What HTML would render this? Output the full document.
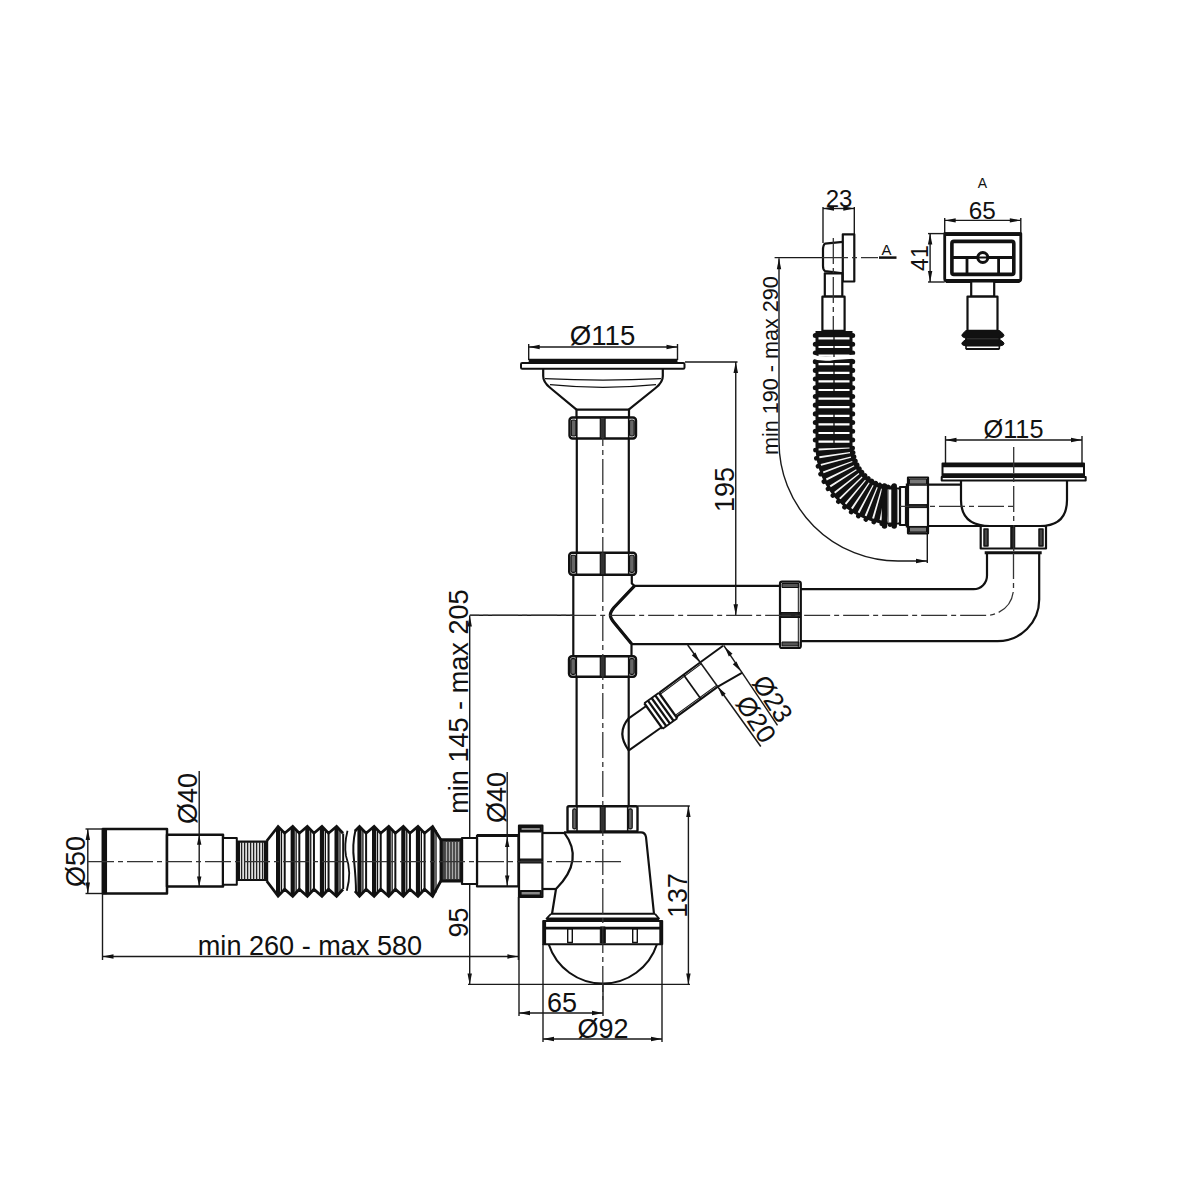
<!DOCTYPE html>
<html><head><meta charset="utf-8"><style>
html,body{margin:0;padding:0;background:#fff;}
svg{display:block;}
text{font-family:"Liberation Sans",sans-serif;fill:#111;}
</style></head><body>
<svg width="1200" height="1200" viewBox="0 0 1200 1200">
<rect width="1200" height="1200" fill="#fff"/>
<line x1="823" y1="207" x2="823" y2="243" stroke="#1a1a1a" stroke-width="1.4" fill="none"/>
<line x1="854.3" y1="207" x2="854.3" y2="234" stroke="#1a1a1a" stroke-width="1.4" fill="none"/>
<line x1="823" y1="208.5" x2="854.3" y2="208.5" stroke="#1a1a1a" stroke-width="1.4" fill="none"/>
<path d="M823.0,208.5 L834.0,206.3 L834.0,210.7Z" fill="#111"/>
<path d="M854.3,208.5 L843.3,210.7 L843.3,206.3Z" fill="#111"/>
<text x="839" y="207" font-size="24" text-anchor="middle" >23</text>
<rect x="842.8" y="234.3" width="11.5" height="47.2" stroke="#111" stroke-width="2.2" fill="#fff" stroke-linejoin="round"/>
<path d="M842.8,241.8 L825,243.6 Q823,245 823,250 L823,266 Q823,270 825,271 L842.8,273.3" stroke="#111" stroke-width="2.2" fill="none" stroke-linejoin="round"/>
<rect x="824.8" y="273.3" width="17.5" height="23.4" stroke="#111" stroke-width="2.2" fill="#fff" stroke-linejoin="round"/>
<rect x="822.4" y="296.7" width="22.2" height="34.1" stroke="#111" stroke-width="2.2" fill="#fff" stroke-linejoin="round"/>
<line x1="774.6" y1="257.6" x2="822" y2="257.6" stroke="#1a1a1a" stroke-width="1.4" fill="none"/>
<line x1="879" y1="257.6" x2="896.5" y2="257.6" stroke="#111" stroke-width="2.5" fill="none" stroke-linejoin="round"/>
<text x="886.5" y="254.5" font-size="15" text-anchor="middle" >A</text>
<line x1="779" y1="258.3" x2="779" y2="442" stroke="#1a1a1a" stroke-width="1.4" fill="none"/>
<path d="M779,442 A119,119 0 0 0 898,561 L927,561" stroke="#1a1a1a" stroke-width="1.4" fill="none"/>
<path d="M779.0,258.3 L781.2,269.3 L776.8,269.3Z" fill="#111"/>
<path d="M927.0,561.0 L916.0,563.2 L916.0,558.8Z" fill="#111"/>
<line x1="927.3" y1="530" x2="927.3" y2="563" stroke="#1a1a1a" stroke-width="1.4" fill="none"/>
<text x="778" y="365.6" font-size="21.6" text-anchor="middle" transform="rotate(-90 778 365.6)" >min 190 - max 290</text>
<text x="982.5" y="187.5" font-size="14" text-anchor="middle" >A</text>
<text x="982.2" y="218.6" font-size="24.3" text-anchor="middle" >65</text>
<line x1="944.7" y1="218" x2="944.7" y2="233.6" stroke="#1a1a1a" stroke-width="1.4" fill="none"/>
<line x1="1020.8" y1="218" x2="1020.8" y2="233.6" stroke="#1a1a1a" stroke-width="1.4" fill="none"/>
<line x1="944.7" y1="220.4" x2="1020.8" y2="220.4" stroke="#1a1a1a" stroke-width="1.4" fill="none"/>
<path d="M944.7,220.4 L955.7,218.2 L955.7,222.6Z" fill="#111"/>
<path d="M1020.8,220.4 L1009.8,222.6 L1009.8,218.2Z" fill="#111"/>
<path d="M944.7,233.6 H1020.8 V278.4 Q1020.8,281.4 1017.8,281.4 H947.7 Q944.7,281.4 944.7,278.4 Z" stroke="#111" stroke-width="2.8" fill="none" stroke-linejoin="round"/>
<line x1="944.7" y1="234.2" x2="1020.8" y2="234.2" stroke="#111" stroke-width="3.8" fill="none" stroke-linejoin="round"/>
<line x1="946" y1="281" x2="1019.5" y2="281" stroke="#111" stroke-width="3.8" fill="none" stroke-linejoin="round"/>
<rect x="951.9" y="241.4" width="61.9" height="33" stroke="#111" stroke-width="3.6" fill="#fff" stroke-linejoin="round" rx="2"/>
<line x1="951.9" y1="257.5" x2="1013.8" y2="257.5" stroke="#111" stroke-width="2.8" fill="none" stroke-linejoin="round"/>
<line x1="967" y1="257.5" x2="967" y2="274.4" stroke="#111" stroke-width="2.8" fill="none" stroke-linejoin="round"/>
<line x1="998.6" y1="257.5" x2="998.6" y2="274.4" stroke="#111" stroke-width="2.8" fill="none" stroke-linejoin="round"/>
<circle cx="982.8" cy="257.5" r="5" stroke="#111" stroke-width="3" fill="#fff"/>
<line x1="977.8" y1="257.5" x2="987.8" y2="257.5" stroke="#111" stroke-width="2" fill="none" stroke-linejoin="round"/>
<line x1="928" y1="233.6" x2="944.7" y2="233.6" stroke="#1a1a1a" stroke-width="1.4" fill="none"/>
<line x1="928" y1="282" x2="944.7" y2="282" stroke="#1a1a1a" stroke-width="1.4" fill="none"/>
<line x1="930.1" y1="233.6" x2="930.1" y2="282" stroke="#1a1a1a" stroke-width="1.4" fill="none"/>
<path d="M930.1,233.6 L932.3,244.6 L927.9,244.6Z" fill="#111"/>
<path d="M930.1,282.0 L927.9,271.0 L932.3,271.0Z" fill="#111"/>
<text x="928.3" y="258.1" font-size="23" text-anchor="middle" transform="rotate(-90 928.3 258.1)" >41</text>
<rect x="971.2" y="281.4" width="23" height="15.2" stroke="#111" stroke-width="2.2" fill="#fff" stroke-linejoin="round"/>
<rect x="967.5" y="296.6" width="30" height="34.2" stroke="#111" stroke-width="2.2" fill="#fff" stroke-linejoin="round"/>
<path d="M966,330.5 H999.5 L1003.2,333.8 Q1004.8,335.3 1003.2,336.8 L1000,338.3 H966 L962.6,336.8 Q961,335.3 962.6,333.8 Z" stroke="#111" stroke-width="1" fill="#111" stroke-linejoin="round"/>
<path d="M966,339.3 H999.5 L1003.2,342 Q1004.8,343.5 1003.2,345 L1000,346 H966 L962.6,345 Q961,343.5 962.6,342 Z" stroke="#111" stroke-width="1" fill="#111" stroke-linejoin="round"/>
<line x1="966" y1="338" x2="966" y2="349" stroke="#111" stroke-width="1.6" fill="none" stroke-linejoin="round"/>
<line x1="999.3" y1="338" x2="999.3" y2="349" stroke="#111" stroke-width="1.6" fill="none" stroke-linejoin="round"/>
<line x1="965.8" y1="349" x2="999.5" y2="349" stroke="#111" stroke-width="2.2" fill="none" stroke-linejoin="round"/>
<path d="M834,331 V446 A60,60 0 0 0 894,506 H899" stroke="#111" stroke-width="37" fill="none"/>
<path d="M834,331 V446" stroke="#fff" stroke-width="31" fill="none" stroke-dasharray="2.2 6.4" stroke-dashoffset="2.3"/>
<path d="M834,446 A60,60 0 0 0 894,506" stroke="#f4f4f4" stroke-width="31" fill="none" stroke-dasharray="1.6 4.6" stroke-dashoffset="-2"/>
<path d="M815.3,331 V446" stroke="#111" stroke-width="5" fill="none" stroke-linejoin="round" stroke-linecap="round" stroke-dasharray="0.1 8.6" stroke-dashoffset="-4.5"/>
<path d="M852.7,331 V446" stroke="#111" stroke-width="5" fill="none" stroke-linejoin="round" stroke-linecap="round" stroke-dasharray="0.1 8.6" stroke-dashoffset="-4.5"/>
<path d="M815.3,446 A78.7,78.7 0 0 0 894,524.7" stroke="#111" stroke-width="4.6" fill="none" stroke-linejoin="round" stroke-linecap="round" stroke-dasharray="0.1 8.13" stroke-dashoffset="-4.07"/>
<path d="M852.7,446 A41.3,41.3 0 0 0 894,487.3" stroke="#111" stroke-width="4.6" fill="none" stroke-linejoin="round" stroke-linecap="round" stroke-dasharray="0.1 4.27" stroke-dashoffset="-2.13"/>
<rect x="887.6" y="489.5" width="4.0" height="33" stroke="none" stroke-width="2.2" fill="#fff" stroke-linejoin="round"/>
<line x1="888.2" y1="489.5" x2="888.2" y2="522.5" stroke="#555" stroke-width="0.9" fill="none" stroke-linejoin="round"/>
<rect x="896.6" y="489.5" width="2.3999999999999773" height="33" stroke="none" stroke-width="2.2" fill="#fff" stroke-linejoin="round"/>
<line x1="897.2" y1="489.5" x2="897.2" y2="522.5" stroke="#555" stroke-width="0.9" fill="none" stroke-linejoin="round"/>
<line x1="884.5" y1="486" x2="884.5" y2="526" stroke="#111" stroke-width="5.5" fill="none" stroke-linejoin="round" stroke-linecap="round"/>
<line x1="894.2" y1="486" x2="894.2" y2="526" stroke="#111" stroke-width="5.5" fill="none" stroke-linejoin="round" stroke-linecap="round"/>
<path d="M811,355.8 Q822,360.5 834,358 L857,356.5" stroke="#fff" stroke-width="4" fill="none" stroke-linejoin="round"/>
<rect x="900" y="487" width="6" height="38" stroke="#111" stroke-width="2.2" fill="#fff" stroke-linejoin="round"/>
<rect x="908" y="477.5" width="20" height="55.8" stroke="#111" stroke-width="2.2" fill="#fff" stroke-linejoin="round"/>
<rect x="909.5" y="479" width="17" height="5" stroke="#111" stroke-width="1" fill="#777" stroke-linejoin="round"/>
<rect x="909.5" y="527" width="17" height="5" stroke="#111" stroke-width="1" fill="#777" stroke-linejoin="round"/>
<line x1="908" y1="485" x2="928" y2="485" stroke="#111" stroke-width="1.5" fill="none" stroke-linejoin="round"/>
<line x1="908" y1="526.7" x2="928" y2="526.7" stroke="#111" stroke-width="1.5" fill="none" stroke-linejoin="round"/>
<rect x="909" y="504.6" width="18" height="3" stroke="#111" stroke-width="1" fill="#222" stroke-linejoin="round"/>
<line x1="906.8" y1="483.5" x2="906.8" y2="527.5" stroke="#111" stroke-width="2" fill="none" stroke-linejoin="round"/>
<text x="1013.5" y="437.9" font-size="25.3" text-anchor="middle" >Ø115</text>
<line x1="945.5" y1="436" x2="945.5" y2="463" stroke="#1a1a1a" stroke-width="1.4" fill="none"/>
<line x1="1082" y1="436" x2="1082" y2="463" stroke="#1a1a1a" stroke-width="1.4" fill="none"/>
<line x1="945.5" y1="440" x2="1082" y2="440" stroke="#1a1a1a" stroke-width="1.4" fill="none"/>
<path d="M945.5,440.0 L956.5,437.8 L956.5,442.2Z" fill="#111"/>
<path d="M1082.0,440.0 L1071.0,442.2 L1071.0,437.8Z" fill="#111"/>
<rect x="942.5" y="463.5" width="141.5" height="13.5" stroke="#111" stroke-width="2" fill="#fff" stroke-linejoin="round"/>
<line x1="942.5" y1="465.5" x2="1084" y2="465.5" stroke="#111" stroke-width="3.5" fill="none" stroke-linejoin="round"/>
<line x1="942.5" y1="474.7" x2="1084" y2="474.7" stroke="#111" stroke-width="3" fill="none" stroke-linejoin="round"/>
<rect x="941.7" y="477" width="144" height="3.4" stroke="#111" stroke-width="2" fill="#fff" stroke-linejoin="round"/>
<path d="M961,480.2 V500 Q961,526 990,526 H1040 Q1067,526 1067,500 V480.2" stroke="#111" stroke-width="2.2" fill="none" stroke-linejoin="round"/>
<line x1="928" y1="484.7" x2="961" y2="484.7" stroke="#111" stroke-width="2.2" fill="none" stroke-linejoin="round"/>
<line x1="928" y1="526" x2="981" y2="526" stroke="#111" stroke-width="2.2" fill="none" stroke-linejoin="round"/>
<rect x="980.7" y="526" width="65.3" height="22.5" stroke="#111" stroke-width="2.2" fill="#fff" stroke-linejoin="round"/>
<rect x="984" y="529" width="4" height="17" stroke="#111" stroke-width="1.5" fill="#444" stroke-linejoin="round"/>
<rect x="1039" y="529" width="4" height="17" stroke="#111" stroke-width="1.5" fill="#444" stroke-linejoin="round"/>
<rect x="1011" y="527" width="3.5" height="21" stroke="#111" stroke-width="1.5" fill="#222" stroke-linejoin="round"/>
<line x1="984.7" y1="552.8" x2="1041.7" y2="552.8" stroke="#111" stroke-width="3" fill="none" stroke-linejoin="round"/>
<path d="M987,553 V575.5 A13.5,13.5 0 0 1 973.5,589.2 H800.8" stroke="#111" stroke-width="2.2" fill="none" stroke-linejoin="round"/>
<path d="M1039.2,553 V599.5 A41.7,41.7 0 0 1 997.5,641.2 H800.8" stroke="#111" stroke-width="2.2" fill="none" stroke-linejoin="round"/>
<rect x="780" y="581.7" width="20.8" height="66.3" stroke="#111" stroke-width="2.2" fill="#fff" stroke-linejoin="round" rx="2"/>
<rect x="782" y="583.5" width="16.8" height="4" stroke="#111" stroke-width="1" fill="#555" stroke-linejoin="round"/>
<rect x="782" y="642" width="16.8" height="4" stroke="#111" stroke-width="1" fill="#555" stroke-linejoin="round"/>
<rect x="781" y="612.5" width="19" height="5" stroke="#111" stroke-width="1" fill="#222" stroke-linejoin="round"/>
<line x1="798.3" y1="583" x2="798.3" y2="647" stroke="#111" stroke-width="1" fill="none" stroke-linejoin="round"/>
<line x1="634.5" y1="585.8" x2="780" y2="585.8" stroke="#111" stroke-width="2.2" fill="none" stroke-linejoin="round"/>
<line x1="631.5" y1="644.2" x2="780" y2="644.2" stroke="#111" stroke-width="2.2" fill="none" stroke-linejoin="round"/>
<text x="602.6" y="344.8" font-size="27.6" text-anchor="middle" >Ø115</text>
<line x1="528.7" y1="344" x2="528.7" y2="360" stroke="#1a1a1a" stroke-width="1.4" fill="none"/>
<line x1="677.5" y1="344" x2="677.5" y2="360" stroke="#1a1a1a" stroke-width="1.4" fill="none"/>
<line x1="528.7" y1="347" x2="677.5" y2="347" stroke="#1a1a1a" stroke-width="1.4" fill="none"/>
<path d="M528.7,347.0 L539.7,344.8 L539.7,349.2Z" fill="#111"/>
<path d="M677.5,347.0 L666.5,349.2 L666.5,344.8Z" fill="#111"/>
<line x1="528.7" y1="360.6" x2="677.5" y2="360.6" stroke="#111" stroke-width="3.5" fill="none" stroke-linejoin="round"/>
<rect x="521" y="363" width="163.5" height="5.8" stroke="#111" stroke-width="2" fill="#fff" stroke-linejoin="round" rx="1.2"/>
<path d="M543.2,369 V376 Q543,382 550.4,388 L576.5,409.7" stroke="#111" stroke-width="2.2" fill="none" stroke-linejoin="round"/>
<path d="M662.8,369 V376 Q663,382 655.6,388 L628.7,409.7" stroke="#111" stroke-width="2.2" fill="none" stroke-linejoin="round"/>
<path d="M545,378.6 Q603,381.5 661,378.6" stroke="#111" stroke-width="1.2" fill="none" stroke-linejoin="round"/>
<path d="M550,384.6 Q603,390 656,384.6" stroke="#111" stroke-width="1.2" fill="none" stroke-linejoin="round"/>
<rect x="576.5" y="409.7" width="52.5" height="8" stroke="#111" stroke-width="2.2" fill="#fff" stroke-linejoin="round"/>
<line x1="685" y1="362" x2="737.5" y2="362" stroke="#1a1a1a" stroke-width="1.4" fill="none"/>
<line x1="735.75" y1="362" x2="735.75" y2="615.3" stroke="#1a1a1a" stroke-width="1.4" fill="none"/>
<path d="M735.8,362.0 L738.0,373.0 L733.5,373.0Z" fill="#111"/>
<path d="M735.8,615.3 L733.5,604.3 L738.0,604.3Z" fill="#111"/>
<text x="734.2" y="489.4" font-size="27" text-anchor="middle" transform="rotate(-90 734.2 489.4)" >195</text>
<rect x="569.5" y="417.5" width="66.5" height="21.0" stroke="#111" stroke-width="2.4" fill="#fff" stroke-linejoin="round" rx="3"/>
<rect x="571.3" y="420.0" width="4.7" height="16.0" stroke="#111" stroke-width="1.2" fill="#666" stroke-linejoin="round" rx="1.5"/>
<rect x="629.5" y="420.0" width="4.7" height="16.0" stroke="#111" stroke-width="1.2" fill="#666" stroke-linejoin="round" rx="1.5"/>
<line x1="576.8" y1="417.5" x2="576.8" y2="438.5" stroke="#111" stroke-width="1.6" fill="none" stroke-linejoin="round"/>
<line x1="628.7" y1="417.5" x2="628.7" y2="438.5" stroke="#111" stroke-width="1.6" fill="none" stroke-linejoin="round"/>
<rect x="600.3" y="417.5" width="4.8" height="21.0" stroke="#111" stroke-width="1.2" fill="#333" stroke-linejoin="round"/>
<line x1="576.8" y1="438.5" x2="576.8" y2="552.75" stroke="#111" stroke-width="2.2" fill="none" stroke-linejoin="round"/>
<line x1="628.8" y1="438.5" x2="628.8" y2="552.75" stroke="#111" stroke-width="2.2" fill="none" stroke-linejoin="round"/>
<rect x="569.2" y="552.75" width="66.79999999999995" height="22.049999999999955" stroke="#111" stroke-width="2.4" fill="#fff" stroke-linejoin="round" rx="3"/>
<rect x="571.0" y="555.25" width="4.7" height="17.049999999999955" stroke="#111" stroke-width="1.2" fill="#666" stroke-linejoin="round" rx="1.5"/>
<rect x="629.5" y="555.25" width="4.7" height="17.049999999999955" stroke="#111" stroke-width="1.2" fill="#666" stroke-linejoin="round" rx="1.5"/>
<line x1="576.5" y1="552.75" x2="576.5" y2="574.8" stroke="#111" stroke-width="1.6" fill="none" stroke-linejoin="round"/>
<line x1="628.7" y1="552.75" x2="628.7" y2="574.8" stroke="#111" stroke-width="1.6" fill="none" stroke-linejoin="round"/>
<rect x="600.3" y="552.75" width="4.8" height="22.049999999999955" stroke="#111" stroke-width="1.2" fill="#333" stroke-linejoin="round"/>
<line x1="573.3" y1="574.8" x2="573.3" y2="656.2" stroke="#111" stroke-width="2.2" fill="none" stroke-linejoin="round"/>
<path d="M631.8,574.8 V583.5 L634.5,585.8 L614,607.5 Q610.3,612 610.3,615 Q610.3,618 614,622.5 L631.5,643.8 V656.2" stroke="#111" stroke-width="2.2" fill="none" stroke-linejoin="round"/>
<path d="M634.5,585.8 L614,607.5 Q610.3,612 610.3,615 Q610.3,618 614,622.5 L631.5,643.8" stroke="#111" stroke-width="3.2" fill="none" stroke-linejoin="round"/>
<rect x="569" y="656.2" width="67" height="20.59999999999991" stroke="#111" stroke-width="2.4" fill="#fff" stroke-linejoin="round" rx="3"/>
<rect x="570.8" y="658.7" width="4.7" height="15.599999999999909" stroke="#111" stroke-width="1.2" fill="#666" stroke-linejoin="round" rx="1.5"/>
<rect x="629.5" y="658.7" width="4.7" height="15.599999999999909" stroke="#111" stroke-width="1.2" fill="#666" stroke-linejoin="round" rx="1.5"/>
<line x1="576.3" y1="656.2" x2="576.3" y2="676.8" stroke="#111" stroke-width="1.6" fill="none" stroke-linejoin="round"/>
<line x1="628.7" y1="656.2" x2="628.7" y2="676.8" stroke="#111" stroke-width="1.6" fill="none" stroke-linejoin="round"/>
<rect x="600.3" y="656.2" width="4.8" height="20.59999999999991" stroke="#111" stroke-width="1.2" fill="#333" stroke-linejoin="round"/>
<line x1="576.6" y1="676.8" x2="576.6" y2="806" stroke="#111" stroke-width="2.2" fill="none" stroke-linejoin="round"/>
<line x1="628.7" y1="676.8" x2="628.7" y2="806" stroke="#111" stroke-width="2.2" fill="none" stroke-linejoin="round"/>
<rect x="567.5" y="806.3" width="70.0" height="25.100000000000023" stroke="#111" stroke-width="2.4" fill="#fff" stroke-linejoin="round" rx="1.5"/>
<rect x="572.8" y="808.8" width="3.4000000000000457" height="20.100000000000023" stroke="#111" stroke-width="1.2" fill="#666" stroke-linejoin="round" rx="1.5"/>
<rect x="628.5" y="808.8" width="3.7" height="20.100000000000023" stroke="#111" stroke-width="1.2" fill="#666" stroke-linejoin="round" rx="1.5"/>
<line x1="577" y1="806.3" x2="577" y2="831.4" stroke="#111" stroke-width="1.6" fill="none" stroke-linejoin="round"/>
<line x1="627.7" y1="806.3" x2="627.7" y2="831.4" stroke="#111" stroke-width="1.6" fill="none" stroke-linejoin="round"/>
<rect x="600.3" y="806.3" width="4.8" height="25.100000000000023" stroke="#111" stroke-width="1.2" fill="#333" stroke-linejoin="round"/>
<path d="M723.07,645.80 L700.39,662.22 L659.44,692.63" stroke="#111" stroke-width="2.0" fill="none" stroke-linejoin="round"/>
<path d="M701.44,663.68 L660.49,694.09" stroke="#111" stroke-width="1.1" fill="none" stroke-linejoin="round"/>
<path d="M742.33,672.60 L717.90,686.58 L676.66,716.59" stroke="#111" stroke-width="2.0" fill="none" stroke-linejoin="round"/>
<path d="M716.85,685.12 L675.61,715.13" stroke="#111" stroke-width="1.1" fill="none" stroke-linejoin="round"/>
<path d="M683.69,674.96 L700.90,698.92" stroke="#111" stroke-width="1.7" fill="none" stroke-linejoin="round"/>
<path d="M658.92,692.76 L677.30,718.34" stroke="#111" stroke-width="2.3" fill="none" stroke-linejoin="round"/>
<path d="M655.27,695.39 L673.65,720.97" stroke="#111" stroke-width="2.3" fill="none" stroke-linejoin="round"/>
<path d="M651.61,698.01 L669.99,723.59" stroke="#111" stroke-width="2.3" fill="none" stroke-linejoin="round"/>
<path d="M647.96,700.64 L666.34,726.22" stroke="#111" stroke-width="2.3" fill="none" stroke-linejoin="round"/>
<path d="M644.30,703.26 L662.68,728.84" stroke="#111" stroke-width="2.3" fill="none" stroke-linejoin="round"/>
<path d="M658.92,692.76 L644.30,703.26" stroke="#111" stroke-width="1.8" fill="none" stroke-linejoin="round"/>
<path d="M677.30,718.34 L662.68,728.84" stroke="#111" stroke-width="1.8" fill="none" stroke-linejoin="round"/>
<path d="M646.23,705.94 L628.71,718.41" stroke="#111" stroke-width="2.0" fill="none" stroke-linejoin="round"/>
<path d="M661.57,727.30 L628.92,750.40" stroke="#111" stroke-width="2.0" fill="none" stroke-linejoin="round"/>
<path d="M628.7,718.3 Q616,733 628.7,750.3" stroke="#111" stroke-width="2.2" fill="none" stroke-linejoin="round"/>
<line x1="687.7" y1="645" x2="760.8" y2="746.5" stroke="#1a1a1a" stroke-width="1.5" fill="none"/>
<line x1="723.7" y1="645.3" x2="777.5" y2="725.3" stroke="#1a1a1a" stroke-width="1.5" fill="none"/>
<path d="M699.5,662.0 L691.8,655.2 L695.5,652.5Z" fill="#111"/>
<path d="M718.0,687.0 L725.7,693.8 L722.0,696.5Z" fill="#111"/>
<path d="M724.8,647.0 L732.5,653.8 L728.8,656.5Z" fill="#111"/>
<path d="M740.5,671.0 L732.8,664.2 L736.5,661.5Z" fill="#111"/>
<text x="748.4" y="724.2" font-size="26.5" text-anchor="middle" transform="rotate(57 748.4 724.2)" >Ø20</text>
<text x="764.9" y="703.7" font-size="26.5" text-anchor="middle" transform="rotate(57 764.9 703.7)" >Ø23</text>
<line x1="637.5" y1="806" x2="689.8" y2="806" stroke="#1a1a1a" stroke-width="1.4" fill="none"/>
<line x1="688.4" y1="806" x2="688.4" y2="984.4" stroke="#1a1a1a" stroke-width="1.4" fill="none"/>
<path d="M688.4,806.0 L690.6,817.0 L686.2,817.0Z" fill="#111"/>
<path d="M688.4,984.4 L686.2,973.4 L690.6,973.4Z" fill="#111"/>
<text x="686.5" y="895.5" font-size="26.8" text-anchor="middle" transform="rotate(-90 686.5 895.5)" >137</text>
<path d="M564,832.4 H641 Q645,832.4 646,837 L654,914" stroke="#111" stroke-width="2.2" fill="none" stroke-linejoin="round"/>
<path d="M564,832.4 Q585,860 556,889 L552,914" stroke="#111" stroke-width="2.2" fill="none" stroke-linejoin="round"/>
<line x1="551" y1="913.8" x2="655" y2="913.8" stroke="#111" stroke-width="2" fill="none" stroke-linejoin="round"/>
<path d="M551,913.8 L546.5,918.5 H659 L655,913.8" stroke="#111" stroke-width="1.8" fill="none" stroke-linejoin="round"/>
<line x1="546.5" y1="919.6" x2="659" y2="919.6" stroke="#111" stroke-width="3" fill="none" stroke-linejoin="round"/>
<rect x="543.2" y="921" width="119" height="23.2" stroke="#111" stroke-width="2" fill="#fff" stroke-linejoin="round"/>
<line x1="544.6" y1="921" x2="544.6" y2="944" stroke="#111" stroke-width="3" fill="none" stroke-linejoin="round"/>
<line x1="660.8" y1="921" x2="660.8" y2="944" stroke="#111" stroke-width="3" fill="none" stroke-linejoin="round"/>
<line x1="543" y1="928.2" x2="662.4" y2="928.2" stroke="#111" stroke-width="2.8" fill="none" stroke-linejoin="round"/>
<rect x="567.7" y="929" width="4.6" height="13.5" stroke="#111" stroke-width="1.4" fill="#fff" stroke-linejoin="round"/>
<rect x="632.7" y="929" width="4.6" height="13.5" stroke="#111" stroke-width="1.4" fill="#fff" stroke-linejoin="round"/>
<rect x="600.3" y="927" width="5" height="16" stroke="#111" stroke-width="1" fill="#111" stroke-linejoin="round"/>
<path d="M548.75,944.4 A56.9,56.9 0 0 0 656.9,944.4" stroke="#111" stroke-width="2" fill="none" stroke-linejoin="round"/>
<line x1="542" y1="833" x2="564" y2="833" stroke="#111" stroke-width="2.2" fill="none" stroke-linejoin="round"/>
<line x1="542" y1="889" x2="556" y2="889" stroke="#111" stroke-width="2.2" fill="none" stroke-linejoin="round"/>
<rect x="519" y="825.6" width="23.4" height="71.4" stroke="#111" stroke-width="2.2" fill="#fff" stroke-linejoin="round"/>
<rect x="520.6" y="827" width="20.2" height="4.6" stroke="#111" stroke-width="2" fill="#888" stroke-linejoin="round"/>
<rect x="520.6" y="891" width="20.2" height="4.6" stroke="#111" stroke-width="2" fill="#888" stroke-linejoin="round"/>
<rect x="520" y="859" width="22" height="4" stroke="#111" stroke-width="1.2" fill="#222" stroke-linejoin="round"/>
<line x1="519" y1="830.5" x2="542.4" y2="830.5" stroke="#111" stroke-width="1" fill="none" stroke-linejoin="round"/>
<line x1="468" y1="984.4" x2="690" y2="984.4" stroke="#1a1a1a" stroke-width="1.4" fill="none"/>
<line x1="519" y1="897" x2="519" y2="1016" stroke="#1a1a1a" stroke-width="1.4" fill="none"/>
<line x1="603" y1="984" x2="603" y2="1016" stroke="#1a1a1a" stroke-width="1.4" fill="none"/>
<line x1="519" y1="1013" x2="603" y2="1013" stroke="#1a1a1a" stroke-width="1.4" fill="none"/>
<path d="M519.0,1013.0 L530.0,1010.8 L530.0,1015.2Z" fill="#111"/>
<path d="M603.0,1013.0 L592.0,1015.2 L592.0,1010.8Z" fill="#111"/>
<text x="562" y="1011.5" font-size="27" text-anchor="middle" >65</text>
<line x1="543" y1="944" x2="543" y2="1042" stroke="#1a1a1a" stroke-width="1.4" fill="none"/>
<line x1="662" y1="944" x2="662" y2="1042" stroke="#1a1a1a" stroke-width="1.4" fill="none"/>
<line x1="543" y1="1039" x2="662" y2="1039" stroke="#1a1a1a" stroke-width="1.4" fill="none"/>
<path d="M543.0,1039.0 L554.0,1036.8 L554.0,1041.2Z" fill="#111"/>
<path d="M662.0,1039.0 L651.0,1041.2 L651.0,1036.8Z" fill="#111"/>
<text x="603" y="1037.5" font-size="27" text-anchor="middle" >Ø92</text>
<line x1="469.7" y1="615.3" x2="573.3" y2="615.3" stroke="#1a1a1a" stroke-width="1.4" fill="none"/>
<line x1="469.7" y1="615.5" x2="469.7" y2="861.6" stroke="#1a1a1a" stroke-width="1.4" fill="none"/>
<path d="M469.7,615.5 L471.9,626.5 L467.5,626.5Z" fill="#111"/>
<path d="M469.7,858.5 L467.5,847.5 L471.9,847.5Z" fill="#111"/>
<path d="M469.7,865.0 L471.9,876.0 L467.5,876.0Z" fill="#111"/>
<path d="M469.7,984.4 L467.5,973.4 L471.9,973.4Z" fill="#111"/>
<line x1="469.7" y1="861.6" x2="469.7" y2="984.4" stroke="#1a1a1a" stroke-width="1.4" fill="none"/>
<text x="468.5" y="701.6" font-size="27.1" text-anchor="middle" transform="rotate(-90 468.5 701.6)" >min 145 - max 205</text>
<text x="468" y="922.5" font-size="27" text-anchor="middle" transform="rotate(-90 468 922.5)" >95</text>
<line x1="102.5" y1="956.5" x2="518.4" y2="956.5" stroke="#1a1a1a" stroke-width="1.4" fill="none"/>
<path d="M102.5,956.5 L113.5,954.3 L113.5,958.7Z" fill="#111"/>
<path d="M518.4,956.5 L507.4,958.7 L507.4,954.3Z" fill="#111"/>
<line x1="518.4" y1="897" x2="518.4" y2="960" stroke="#1a1a1a" stroke-width="1.4" fill="none"/>
<line x1="102.5" y1="893.5" x2="102.5" y2="960" stroke="#1a1a1a" stroke-width="1.4" fill="none"/>
<text x="310" y="955" font-size="27.1" text-anchor="middle" >min 260 - max 580</text>
<rect x="477" y="835.6" width="41.4" height="50.8" stroke="#111" stroke-width="2.2" fill="#fff" stroke-linejoin="round"/>
<line x1="477" y1="835.6" x2="518.4" y2="835.6" stroke="#111" stroke-width="3" fill="none" stroke-linejoin="round"/>
<line x1="507.2" y1="772" x2="507.2" y2="886" stroke="#1a1a1a" stroke-width="1.4" fill="none"/>
<path d="M507.2,837.0 L509.4,847.0 L505.0,847.0Z" fill="#111"/>
<path d="M507.2,885.5 L505.0,875.5 L509.4,875.5Z" fill="#111"/>
<text x="505.8" y="797.5" font-size="27" text-anchor="middle" transform="rotate(-90 505.8 797.5)" >Ø40</text>
<rect x="462" y="838" width="15" height="46" stroke="#111" stroke-width="2.2" fill="#fff" stroke-linejoin="round"/>
<rect x="441.2" y="839.8" width="20.4" height="41.2" stroke="#111" stroke-width="3" fill="#444" stroke-linejoin="round"/>
<line x1="446.5" y1="842" x2="446.5" y2="879" stroke="#aaa" stroke-width="1.2" fill="none" stroke-linejoin="round"/>
<line x1="449.5" y1="842" x2="449.5" y2="879" stroke="#aaa" stroke-width="1.2" fill="none" stroke-linejoin="round"/>
<line x1="452.5" y1="842" x2="452.5" y2="879" stroke="#aaa" stroke-width="1.2" fill="none" stroke-linejoin="round"/>
<line x1="455.5" y1="842" x2="455.5" y2="879" stroke="#aaa" stroke-width="1.2" fill="none" stroke-linejoin="round"/>
<line x1="458.5" y1="842" x2="458.5" y2="879" stroke="#aaa" stroke-width="1.2" fill="none" stroke-linejoin="round"/>
<path d="M266.70,841 L278.10,826.5 L284.70,833.2 L292.72,826.5 L299.32,833.2 L307.34,826.5 L313.94,833.2 L321.96,826.5 L328.56,833.2 L336.58,826.5 L343.00,833.2" stroke="#111" stroke-width="2.8" fill="none" stroke-linejoin="miter" stroke-miterlimit="3"/>
<path d="M266.70,881 L278.10,896.2 L284.70,889.3 L292.72,896.2 L299.32,889.3 L307.34,896.2 L313.94,889.3 L321.96,896.2 L328.56,889.3 L336.58,896.2 L343.00,889.3" stroke="#111" stroke-width="2.8" fill="none" stroke-linejoin="miter" stroke-miterlimit="3"/>
<path d="M355.00,831 L359.50,826.5 L366.10,833.2 L374.12,826.5 L380.72,833.2 L388.74,826.5 L395.34,833.2 L403.36,826.5 L409.96,833.2 L417.98,826.5 L424.58,833.2 L432.60,826.5 L440.80,839.8" stroke="#111" stroke-width="2.8" fill="none" stroke-linejoin="miter" stroke-miterlimit="3"/>
<path d="M355.00,891 L359.50,896.2 L366.10,889.3 L374.12,896.2 L380.72,889.3 L388.74,896.2 L395.34,889.3 L403.36,896.2 L409.96,889.3 L417.98,896.2 L424.58,889.3 L432.60,896.2 L440.80,881" stroke="#111" stroke-width="2.8" fill="none" stroke-linejoin="miter" stroke-miterlimit="3"/>
<line x1="278.1" y1="828" x2="278.1" y2="894.5" stroke="#111" stroke-width="4.2" fill="none" stroke-linejoin="round"/>
<line x1="281.5" y1="830" x2="281.5" y2="892.5" stroke="#111" stroke-width="1.3" fill="none" stroke-linejoin="round"/>
<line x1="284.70000000000005" y1="833.5" x2="284.70000000000005" y2="889" stroke="#111" stroke-width="2" fill="none" stroke-linejoin="round"/>
<line x1="292.72" y1="828" x2="292.72" y2="894.5" stroke="#111" stroke-width="4.2" fill="none" stroke-linejoin="round"/>
<line x1="296.12" y1="830" x2="296.12" y2="892.5" stroke="#111" stroke-width="1.3" fill="none" stroke-linejoin="round"/>
<line x1="299.32000000000005" y1="833.5" x2="299.32000000000005" y2="889" stroke="#111" stroke-width="2" fill="none" stroke-linejoin="round"/>
<line x1="307.34000000000003" y1="828" x2="307.34000000000003" y2="894.5" stroke="#111" stroke-width="4.2" fill="none" stroke-linejoin="round"/>
<line x1="310.74" y1="830" x2="310.74" y2="892.5" stroke="#111" stroke-width="1.3" fill="none" stroke-linejoin="round"/>
<line x1="313.94000000000005" y1="833.5" x2="313.94000000000005" y2="889" stroke="#111" stroke-width="2" fill="none" stroke-linejoin="round"/>
<line x1="321.96000000000004" y1="828" x2="321.96000000000004" y2="894.5" stroke="#111" stroke-width="4.2" fill="none" stroke-linejoin="round"/>
<line x1="325.36" y1="830" x2="325.36" y2="892.5" stroke="#111" stroke-width="1.3" fill="none" stroke-linejoin="round"/>
<line x1="328.56000000000006" y1="833.5" x2="328.56000000000006" y2="889" stroke="#111" stroke-width="2" fill="none" stroke-linejoin="round"/>
<line x1="336.58000000000004" y1="828" x2="336.58000000000004" y2="894.5" stroke="#111" stroke-width="4.2" fill="none" stroke-linejoin="round"/>
<line x1="339.98" y1="830" x2="339.98" y2="892.5" stroke="#111" stroke-width="1.3" fill="none" stroke-linejoin="round"/>
<line x1="343.18000000000006" y1="833.5" x2="343.18000000000006" y2="889" stroke="#111" stroke-width="2" fill="none" stroke-linejoin="round"/>
<line x1="359.5" y1="828" x2="359.5" y2="894.5" stroke="#111" stroke-width="4.2" fill="none" stroke-linejoin="round"/>
<line x1="362.9" y1="830" x2="362.9" y2="892.5" stroke="#111" stroke-width="1.3" fill="none" stroke-linejoin="round"/>
<line x1="366.1" y1="833.5" x2="366.1" y2="889" stroke="#111" stroke-width="2" fill="none" stroke-linejoin="round"/>
<line x1="374.12" y1="828" x2="374.12" y2="894.5" stroke="#111" stroke-width="4.2" fill="none" stroke-linejoin="round"/>
<line x1="377.52" y1="830" x2="377.52" y2="892.5" stroke="#111" stroke-width="1.3" fill="none" stroke-linejoin="round"/>
<line x1="380.72" y1="833.5" x2="380.72" y2="889" stroke="#111" stroke-width="2" fill="none" stroke-linejoin="round"/>
<line x1="388.74" y1="828" x2="388.74" y2="894.5" stroke="#111" stroke-width="4.2" fill="none" stroke-linejoin="round"/>
<line x1="392.14" y1="830" x2="392.14" y2="892.5" stroke="#111" stroke-width="1.3" fill="none" stroke-linejoin="round"/>
<line x1="395.34000000000003" y1="833.5" x2="395.34000000000003" y2="889" stroke="#111" stroke-width="2" fill="none" stroke-linejoin="round"/>
<line x1="403.36" y1="828" x2="403.36" y2="894.5" stroke="#111" stroke-width="4.2" fill="none" stroke-linejoin="round"/>
<line x1="406.76" y1="830" x2="406.76" y2="892.5" stroke="#111" stroke-width="1.3" fill="none" stroke-linejoin="round"/>
<line x1="409.96000000000004" y1="833.5" x2="409.96000000000004" y2="889" stroke="#111" stroke-width="2" fill="none" stroke-linejoin="round"/>
<line x1="417.98" y1="828" x2="417.98" y2="894.5" stroke="#111" stroke-width="4.2" fill="none" stroke-linejoin="round"/>
<line x1="421.38" y1="830" x2="421.38" y2="892.5" stroke="#111" stroke-width="1.3" fill="none" stroke-linejoin="round"/>
<line x1="424.58000000000004" y1="833.5" x2="424.58000000000004" y2="889" stroke="#111" stroke-width="2" fill="none" stroke-linejoin="round"/>
<line x1="432.6" y1="828" x2="432.6" y2="894.5" stroke="#111" stroke-width="4.2" fill="none" stroke-linejoin="round"/>
<line x1="436.0" y1="830" x2="436.0" y2="892.5" stroke="#111" stroke-width="1.3" fill="none" stroke-linejoin="round"/>
<line x1="266.7" y1="841" x2="266.7" y2="881" stroke="#111" stroke-width="3" fill="none" stroke-linejoin="round"/>
<line x1="440.8" y1="839.8" x2="440.8" y2="881" stroke="#111" stroke-width="2" fill="none" stroke-linejoin="round"/>
<path d="M347.5,830.7 Q344,845 346,856 Q352,872 346.8,890.7" stroke="#111" stroke-width="1.8" fill="none" stroke-linejoin="round"/>
<path d="M355.5,830 Q352,845 354,860 Q356,880 356,892" stroke="#111" stroke-width="2" fill="none" stroke-linejoin="round"/>
<rect x="102.8" y="829" width="64.2" height="64.5" stroke="#111" stroke-width="2.5" fill="#fff" stroke-linejoin="round"/>
<rect x="102.8" y="829" width="3.5" height="64.5" stroke="#111" stroke-width="1.5" fill="#111" stroke-linejoin="round"/>
<rect x="167" y="834.8" width="56" height="51.8" stroke="#111" stroke-width="2.5" fill="#fff" stroke-linejoin="round"/>
<rect x="223" y="838" width="13.8" height="46.8" stroke="#111" stroke-width="2" fill="#fff" stroke-linejoin="round"/>
<rect x="237.5" y="841.6" width="29" height="38.4" stroke="#111" stroke-width="2.2" fill="#fff" stroke-linejoin="round"/>
<line x1="238.5" y1="841.6" x2="238.5" y2="880" stroke="#111" stroke-width="3" fill="none" stroke-linejoin="round"/>
<line x1="265.5" y1="841.6" x2="265.5" y2="880" stroke="#111" stroke-width="3" fill="none" stroke-linejoin="round"/>
<line x1="241.6" y1="842" x2="241.6" y2="879.5" stroke="#222" stroke-width="1.5" fill="none" stroke-linejoin="round"/>
<line x1="244.6" y1="842" x2="244.6" y2="879.5" stroke="#222" stroke-width="1.5" fill="none" stroke-linejoin="round"/>
<line x1="247.6" y1="842" x2="247.6" y2="879.5" stroke="#222" stroke-width="1.5" fill="none" stroke-linejoin="round"/>
<line x1="250.6" y1="842" x2="250.6" y2="879.5" stroke="#222" stroke-width="1.5" fill="none" stroke-linejoin="round"/>
<line x1="253.6" y1="842" x2="253.6" y2="879.5" stroke="#222" stroke-width="1.5" fill="none" stroke-linejoin="round"/>
<line x1="256.6" y1="842" x2="256.6" y2="879.5" stroke="#222" stroke-width="1.5" fill="none" stroke-linejoin="round"/>
<line x1="259.6" y1="842" x2="259.6" y2="879.5" stroke="#222" stroke-width="1.5" fill="none" stroke-linejoin="round"/>
<line x1="262.6" y1="842" x2="262.6" y2="879.5" stroke="#222" stroke-width="1.5" fill="none" stroke-linejoin="round"/>
<line x1="199.2" y1="771" x2="199.2" y2="886.6" stroke="#1a1a1a" stroke-width="1.4" fill="none"/>
<path d="M199.2,834.8 L201.4,844.8 L197.0,844.8Z" fill="#111"/>
<path d="M199.2,886.6 L197.0,876.6 L201.4,876.6Z" fill="#111"/>
<text x="197.2" y="798.5" font-size="27" text-anchor="middle" transform="rotate(-90 197.2 798.5)" >Ø40</text>
<line x1="85.5" y1="829" x2="102.8" y2="829" stroke="#1a1a1a" stroke-width="1.4" fill="none"/>
<line x1="85.5" y1="893.5" x2="102.8" y2="893.5" stroke="#1a1a1a" stroke-width="1.4" fill="none"/>
<line x1="87.8" y1="829" x2="87.8" y2="893.5" stroke="#1a1a1a" stroke-width="1.4" fill="none"/>
<path d="M87.8,829.0 L90.0,840.0 L85.6,840.0Z" fill="#111"/>
<path d="M87.8,893.5 L85.6,882.5 L90.0,882.5Z" fill="#111"/>
<text x="85.2" y="861.5" font-size="27" text-anchor="middle" transform="rotate(-90 85.2 861.5)" >Ø50</text>
<line x1="833.3" y1="238" x2="833.3" y2="330" stroke="#333" stroke-width="1.3" fill="none" stroke-dasharray="26 4 5 4"/>
<line x1="822" y1="257.6" x2="878" y2="257.6" stroke="#333" stroke-width="1.3" fill="none" stroke-dasharray="26 4 5 4"/>
<line x1="834" y1="331" x2="834" y2="446" stroke="#111" stroke-width="1.3" fill="none" stroke-dasharray="26 4 5 4"/>
<line x1="900" y1="506.3" x2="1013.7" y2="506.3" stroke="#333" stroke-width="1.3" fill="none" stroke-dasharray="26 4 5 4"/>
<line x1="1013.7" y1="447" x2="1013.7" y2="553" stroke="#333" stroke-width="1.3" fill="none" stroke-dasharray="26 4 5 4"/>
<path d="M1013.5,553 V588 A27,27 0 0 1 986.5,615.3 H470" stroke="#333" stroke-width="1.3" fill="none" stroke-dasharray="26 4 5 4"/>
<line x1="602.8" y1="420" x2="602.8" y2="1000" stroke="#333" stroke-width="1.3" fill="none" stroke-dasharray="26 4 5 4"/>
<line x1="88" y1="861.6" x2="625" y2="861.6" stroke="#333" stroke-width="1.3" fill="none" stroke-dasharray="26 4 5 4"/>
</svg></body></html>
